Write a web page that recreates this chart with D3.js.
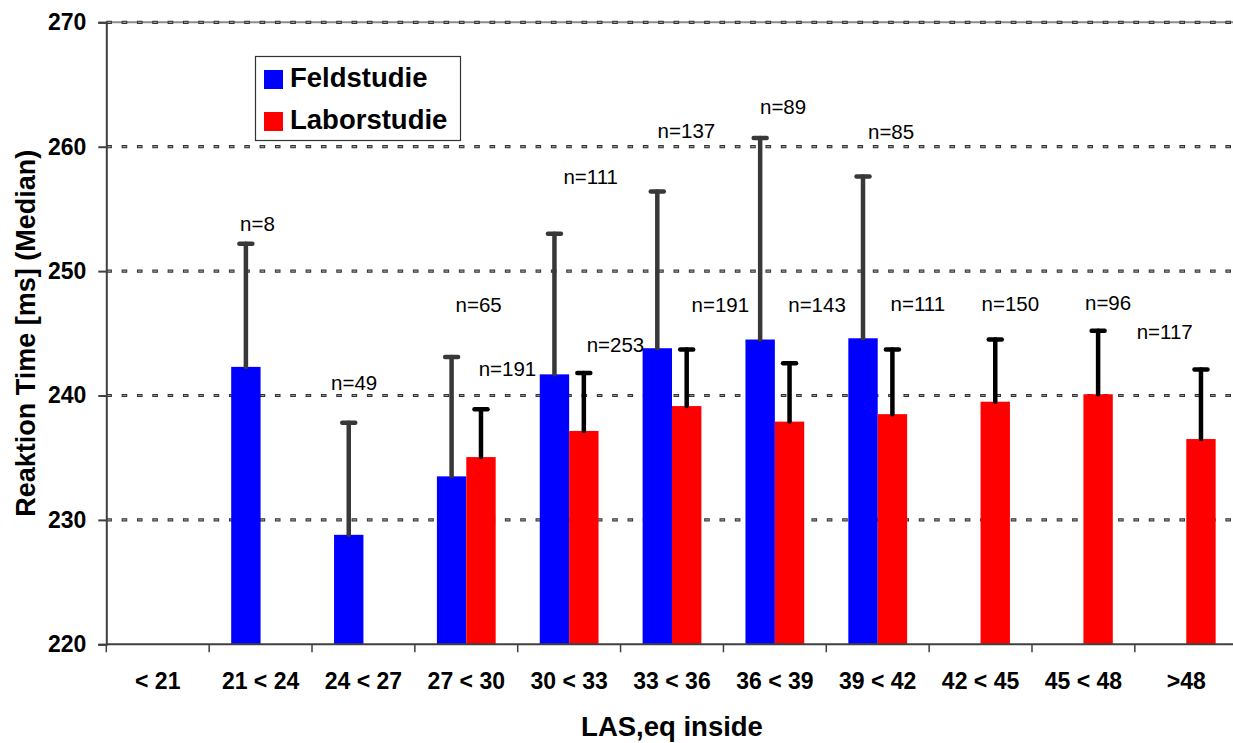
<!DOCTYPE html>
<meta charset="utf-8">
<style>
body { margin: 0; background: #fff; }
svg { display: block; font-family: "Liberation Sans", Arial, sans-serif; }
</style>
<svg width="1233" height="743"></svg>
<script src="https://d3js.org/d3.v7.min.js"></script>
<script>

// categories of LAS,eq inside
var categories = ["< 21", "21 < 24", "24 < 27", "27 < 30", "30 < 33", "33 < 36",
                  "36 < 39", "39 < 42", "42 < 45", "45 < 48", ">48"];

// medians (ms), null = no data
var feld  = [null, 242.3, 228.8, 233.5, 241.7, 243.8, 244.5, 244.6, null, null, null];
var labor = [null, null, null, 235.05, 237.15, 239.15, 237.9, 238.5, 239.5, 240.1, 236.5];

// upper error (ms)
var feldErr  = [null, 9.9, 9.0, 9.6, 11.3, 12.6, 16.2, 13.0, null, null, null];
var laborErr = [null, null, null, 3.85, 4.65, 4.55, 4.7, 5.2, 5.0, 5.1, 5.6];

// n labels: text, category, offset within band, value (ms) where the label sits
var nText  = ["n=8", "n=49", "n=65", "n=191", "n=111", "n=253", "n=137", "n=191",
              "n=89", "n=143", "n=85", "n=111", "n=150", "n=96", "n=117"];
var nCat   = [1, 2, 3, 3, 4, 4, 5, 5, 6, 6, 7, 7, 8, 9, 10];
var nShift = [-0.03, -0.09, 0.12, 0.40, 0.21, 0.45, 0.14, 0.47, 0.08, 0.41, 0.13, 0.39, 0.29, 0.24, -0.21];
var nValue = [253.8, 241.0, 247.3, 242.2, 257.6, 244.1, 261.3, 247.3, 263.2, 247.3, 261.2, 247.4, 247.4, 247.5, 245.1];

var yTicks = [220, 230, 240, 250, 260, 270];

var svg = d3.select("svg"),
    mLeft = 106.3, mRight = 1237.7, mTop = 22.3, mBottom = 644.3;

var x = d3.scaleBand()
    .domain(d3.range(categories.length))
    .range([mLeft, mRight]);

var y = d3.scaleLinear()
    .domain([220, 270])
    .range([mBottom, mTop]);

var bw = x.bandwidth(),
    barW = bw / 3.5;

// grid lines
var grid = svg.append("g");
grid.append("line")
    .attr("x1", mLeft).attr("x2", 1233)
    .attr("y1", y(270)).attr("y2", y(270))
    .attr("stroke", "#8c8c8c").attr("stroke-width", 2);
grid.selectAll(".g1")
  .data(yTicks.slice(1))
  .enter().append("line")
    .attr("x1", mLeft).attr("x2", 1233)
    .attr("y1", function(d) { return y(d); })
    .attr("y2", function(d) { return y(d); })
    .attr("stroke", "#333").attr("stroke-width", 3.2)
    .attr("stroke-dasharray", "5.6,9.73");
grid.selectAll(".g2")
  .data(yTicks.slice(1))
  .enter().append("line")
    .attr("x1", mLeft + 1).attr("x2", 1233)
    .attr("y1", function(d) { return y(d); })
    .attr("y2", function(d) { return y(d); })
    .attr("stroke", "#999").attr("stroke-width", 1.2)
    .attr("stroke-dasharray", "3.6,11.73");

// bars
function series(vals, errs, color, errColor, side) {
  var data = vals.map(function(v, i) { return {i: i, v: v, e: errs[i]}; })
      .filter(function(d) { return d.v != null; });
  var g = svg.append("g");
  g.selectAll("rect")
    .data(data)
    .enter().append("rect")
      .attr("x", function(d) { return x(d.i) + bw / 2 + (side < 0 ? -barW : 0); })
      .attr("y", function(d) { return y(d.v); })
      .attr("width", barW)
      .attr("height", function(d) { return y(220) - y(d.v); })
      .attr("fill", color);
  return {g: g, data: data, errColor: errColor, side: side};
}

function errorBars(s) {
  var cx = function(d) { return x(d.i) + bw / 2 + s.side * barW / 2; };
  var e = s.g.selectAll(".err")
    .data(s.data)
    .enter().append("g")
      .attr("stroke", s.errColor)
      .attr("stroke-width", 4.5)
      .attr("stroke-linecap", "round");
  e.append("line")
      .attr("x1", cx).attr("x2", cx)
      .attr("y1", function(d) { return y(d.v); })
      .attr("y2", function(d) { return y(d.v + d.e); });
  e.append("line")
      .attr("x1", function(d) { return cx(d) - 6.5; })
      .attr("x2", function(d) { return cx(d) + 6.5; })
      .attr("y1", function(d) { return y(d.v + d.e); })
      .attr("y2", function(d) { return y(d.v + d.e); });
}

var sF = series(feld, feldErr, "#0000ff", "#383838", -1),
    sL = series(labor, laborErr, "#ff0000", "#000", 1);
errorBars(sF);
errorBars(sL);

// axes
svg.append("g")
    .attr("transform", "translate(" + mLeft + ",0)")
    .call(d3.axisLeft(y).tickValues(yTicks).tickSize(8).tickPadding(12).tickFormat(d3.format("d")))
    .call(function(g) {
      g.selectAll("path, line").attr("stroke", "#404040").attr("stroke-width", 2);
      g.selectAll("text").attr("font-size", 23).attr("font-weight", "bold")
        .attr("fill", "#000");
      g.attr("font-family", null).attr("font-size", null);
    });

var xa = svg.append("g");
xa.append("line")
    .attr("x1", mLeft).attr("x2", mRight)
    .attr("y1", mBottom).attr("y2", mBottom)
    .attr("stroke", "#404040").attr("stroke-width", 2);
xa.selectAll(".tick")
  .data(d3.range(categories.length + 1))
  .enter().append("line")
    .attr("x1", function(i) { return mLeft + i * bw; })
    .attr("x2", function(i) { return mLeft + i * bw; })
    .attr("y1", mBottom).attr("y2", mBottom + 8)
    .attr("stroke", "#404040").attr("stroke-width", 1.5);
xa.selectAll("text")
  .data(categories)
  .enter().append("text")
    .attr("x", function(d, i) { return x(i) + bw / 2; })
    .attr("y", 689)
    .attr("text-anchor", "middle")
    .attr("font-size", 23)
    .attr("font-weight", "bold")
    .text(function(d) { return d; });

// axis titles
svg.append("text")
    .attr("x", 672).attr("y", 736)
    .attr("text-anchor", "middle")
    .attr("font-size", 27.5).attr("font-weight", "bold")
    .text("LAS,eq inside");
svg.append("text")
    .attr("transform", "translate(35," + ((mTop + mBottom) / 2) + ") rotate(-90)")
    .attr("text-anchor", "middle")
    .attr("font-size", 27).attr("font-weight", "bold")
    .text("Reaktion Time [ms] (Median)");

// n labels
svg.append("g").selectAll("text")
  .data(nText)
  .enter().append("text")
    .attr("x", function(d, i) { return x(nCat[i]) + bw / 2 + nShift[i] * bw; })
    .attr("y", function(d, i) { return y(nValue[i]); })
    .attr("dy", "0.36em")
    .attr("text-anchor", "middle")
    .attr("font-size", 20.5)
    .text(function(d) { return d; });

// legend
var lg = svg.append("g");
lg.append("rect")
    .attr("x", 255.5).attr("y", 56.5).attr("width", 205).attr("height", 84)
    .attr("fill", "#fff").attr("stroke", "#333").attr("stroke-width", 1.2);
[["Feldstudie", "#0000ff"], ["Laborstudie", "#ff0000"]].forEach(function(d, i) {
  lg.append("rect")
      .attr("x", 264).attr("y", 70 + i * 42).attr("width", 19).attr("height", 19)
      .attr("fill", d[1]);
  lg.append("text")
      .attr("x", 290).attr("y", 87 + i * 42)
      .attr("font-size", 27.5).attr("font-weight", "bold")
      .text(d[0]);
});

</script>
